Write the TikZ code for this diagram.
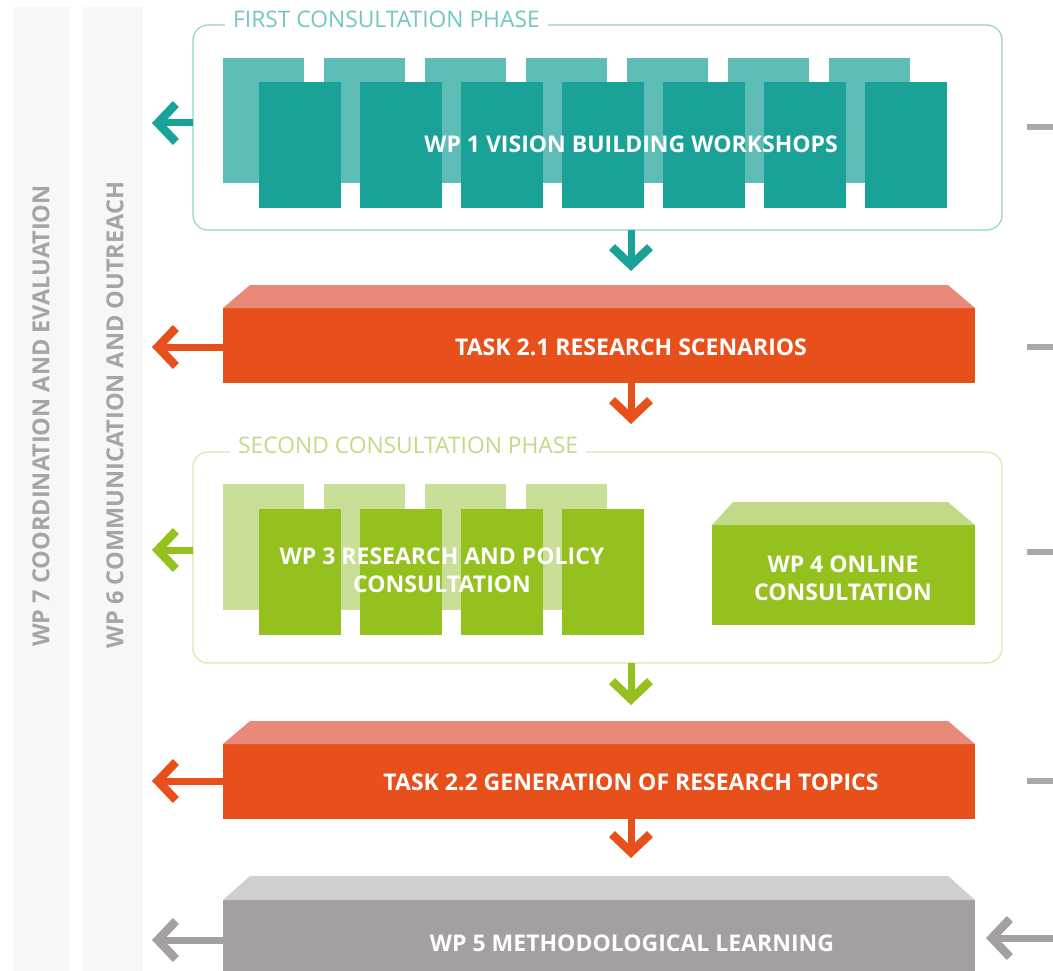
\documentclass[tikz,border=0pt]{standalone}
\usepackage{fontspec}
\setmainfont{Open Sans}
\usetikzlibrary{arrows.meta}
\definecolor{teal1}{HTML}{1AA198}
\definecolor{tealback}{HTML}{5DBDB6}
\definecolor{tealborder}{HTML}{93D2CD}
\definecolor{teallabel}{HTML}{72C7C0}
\definecolor{orange1}{HTML}{E8501B}
\definecolor{orangetop}{HTML}{E8897A}
\definecolor{green1}{HTML}{95C11F}
\definecolor{greenback}{HTML}{C9DE97}
\definecolor{greentop}{HTML}{C2DA88}
\definecolor{greenborder}{HTML}{D8E8AE}
\definecolor{greenlabel}{HTML}{C2DA88}
\definecolor{gray1}{HTML}{A3A09F}
\definecolor{graytop}{HTML}{D0CFCF}
\definecolor{graystub}{HTML}{A9A9A9}
\definecolor{barfill}{HTML}{F7F7F7}
\definecolor{bartext}{HTML}{A5A5A5}
\tikzset{
  blk/.style={anchor=north west, inner sep=0pt, outer sep=0pt, minimum width=#1},
  lbl/.style={text=white, font=\fontsize{23}{28}\selectfont\bfseries, align=center, inner sep=0pt},
  phasebox/.style={draw=#1, line width=1.2pt, rounded corners=15pt, anchor=north west, inner sep=0pt, outer sep=0pt},
  phaselbl/.style={text=#1, fill=white, font=\fontsize{22.8}{26}\selectfont, inner xsep=8pt, inner ysep=2pt},
  arr/.style={draw=#1, line width=7pt, -{Straight Barb[length=18pt,width=38pt,line width=1.5pt 1]}},
  stub/.style={draw=graystub, line width=6pt},
  bartxt/.style={rotate=90, text=bartext, font=\fontsize{23.5}{26}\selectfont\bfseries, inner sep=0pt},
}
\begin{document}
\begin{tikzpicture}[x=1pt,y=-1pt]
\useasboundingbox (0,0) rectangle (1053,971);
\clip (0,0) rectangle (1053,971);
\fill[white] (0,0) rectangle (1053,971);
% side bars
\fill[barfill] (13,7) rectangle (70,971);
\fill[barfill] (83,7) rectangle (143,971);
\node[bartxt] (wp7) at (41,416) {WP 7 COORDINATION AND EVALUATION};
\node[bartxt] (wp6) at (115,415) {WP 6 COMMUNICATION AND OUTREACH};

% first consultation phase
\node[phasebox=tealborder, minimum width=809pt, minimum height=205pt] (phase1) at (193,25) {};
\node[phaselbl=teallabel, anchor=west] (phase1lbl) at (225,19) {FIRST CONSULTATION PHASE};
\foreach \i in {0,...,6} {
  \fill[tealback] (223+101*\i,58) rectangle ++(81,125);
}
\foreach \i in {0,...,6} {
  \node[blk=82pt, minimum height=126pt, fill=teal1] (wa\i) at (259+101*\i,82) {};
}
\node[lbl] (wp1) at (631,144) {WP 1 VISION BUILDING WORKSHOPS};

% task 2.1
\node[blk=752pt, minimum height=75pt, fill=orange1] (t21) at (223,308) {};
\fill[orangetop] (t21.north west) -- ([xshift=27pt,yshift=23pt]t21.north west) -- ([xshift=-27pt,yshift=23pt]t21.north east) -- (t21.north east) -- cycle;
\node[lbl] (t21lbl) at (631,347) {TASK 2.1 RESEARCH SCENARIOS};

% second consultation phase
\node[phasebox=greenborder, minimum width=809pt, minimum height=211pt] (phase2) at (193,452) {};
\node[phaselbl=greenlabel, anchor=west] (phase2lbl) at (230,445) {SECOND CONSULTATION PHASE};
\foreach \i in {0,...,3} {
  \fill[greenback] (223+101*\i,484) rectangle ++(81,126);
}
\foreach \i in {0,...,3} {
  \node[blk=82pt, minimum height=126pt, fill=green1] (wb\i) at (259+101*\i,509) {};
}
\node[lbl] (wp3) at (442,570) {WP 3 RESEARCH AND POLICY\\CONSULTATION};
\node[blk=263pt, minimum height=100pt, fill=green1] (wp4box) at (712,525) {};
\fill[greentop] (wp4box.north west) -- ([xshift=21pt,yshift=23pt]wp4box.north west) -- ([xshift=-27pt,yshift=23pt]wp4box.north east) -- (wp4box.north east) -- cycle;
\node[lbl] (wp4) at (843,578) {WP 4 ONLINE\\CONSULTATION};

% task 2.2
\node[blk=752pt, minimum height=75pt, fill=orange1] (t22) at (223,744) {};
\fill[orangetop] (t22.north west) -- ([xshift=27pt,yshift=23pt]t22.north west) -- ([xshift=-27pt,yshift=23pt]t22.north east) -- (t22.north east) -- cycle;
\node[lbl] (t22lbl) at (631,782) {TASK 2.2 GENERATION OF RESEARCH TOPICS};

% wp5
\node[blk=752pt, minimum height=100pt, fill=gray1] (wp5box) at (223,900) {};
\fill[graytop] (wp5box.north west) -- ([xshift=27pt,yshift=24pt]wp5box.north west) -- ([xshift=-27pt,yshift=24pt]wp5box.north east) -- (wp5box.north east) -- cycle;
\node[lbl] (wp5) at (632,943) {WP 5 METHODOLOGICAL LEARNING};

% left arrows
\coordinate (la1) at (152,123);
\coordinate (la2) at (152,347);
\coordinate (la3) at (152,550);
\coordinate (la4) at (152,781);
\coordinate (la5) at (152,940);
\draw[arr=teal1] (la1 -| phase1.west) -- (la1);
\draw[arr=orange1] (la2 -| t21.west) -- (la2);
\draw[arr=green1] (la3 -| phase2.west) -- (la3);
\draw[arr=orange1] (la4 -| t22.west) -- (la4);
\draw[arr=gray1] (la5 -| wp5box.west) -- (la5);

% down arrows
\coordinate (da1) at (631,271);
\coordinate (da2) at (631,424);
\coordinate (da3) at (631,705);
\coordinate (da4) at (631,858);
\draw[arr=teal1] (da1 |- phase1.south) -- (da1);
\draw[arr=orange1] (da2 |- t21.south) -- (da2);
\draw[arr=green1] (da3 |- phase2.south) -- (da3);
\draw[arr=orange1] (da4 |- t22.south) -- (da4);

% right stubs
\coordinate (rs1a) at (1027,127); \coordinate (rs1b) at (1053,127);
\coordinate (rs2a) at (1027,347); \coordinate (rs2b) at (1053,347);
\coordinate (rs3a) at (1027,552); \coordinate (rs3b) at (1053,552);
\coordinate (rs4a) at (1027,781); \coordinate (rs4b) at (1053,781);
\draw[stub] (rs1a) -- (rs1b);
\draw[stub] (rs2a) -- (rs2b);
\draw[stub] (rs3a) -- (rs3b);
\draw[stub] (rs4a) -- (rs4b);
\coordinate (ra5) at (1060,938);
\coordinate (ra5tip) at (986,938);
\draw[arr=gray1] (ra5) -- (ra5tip);
\end{tikzpicture}
\end{document}
